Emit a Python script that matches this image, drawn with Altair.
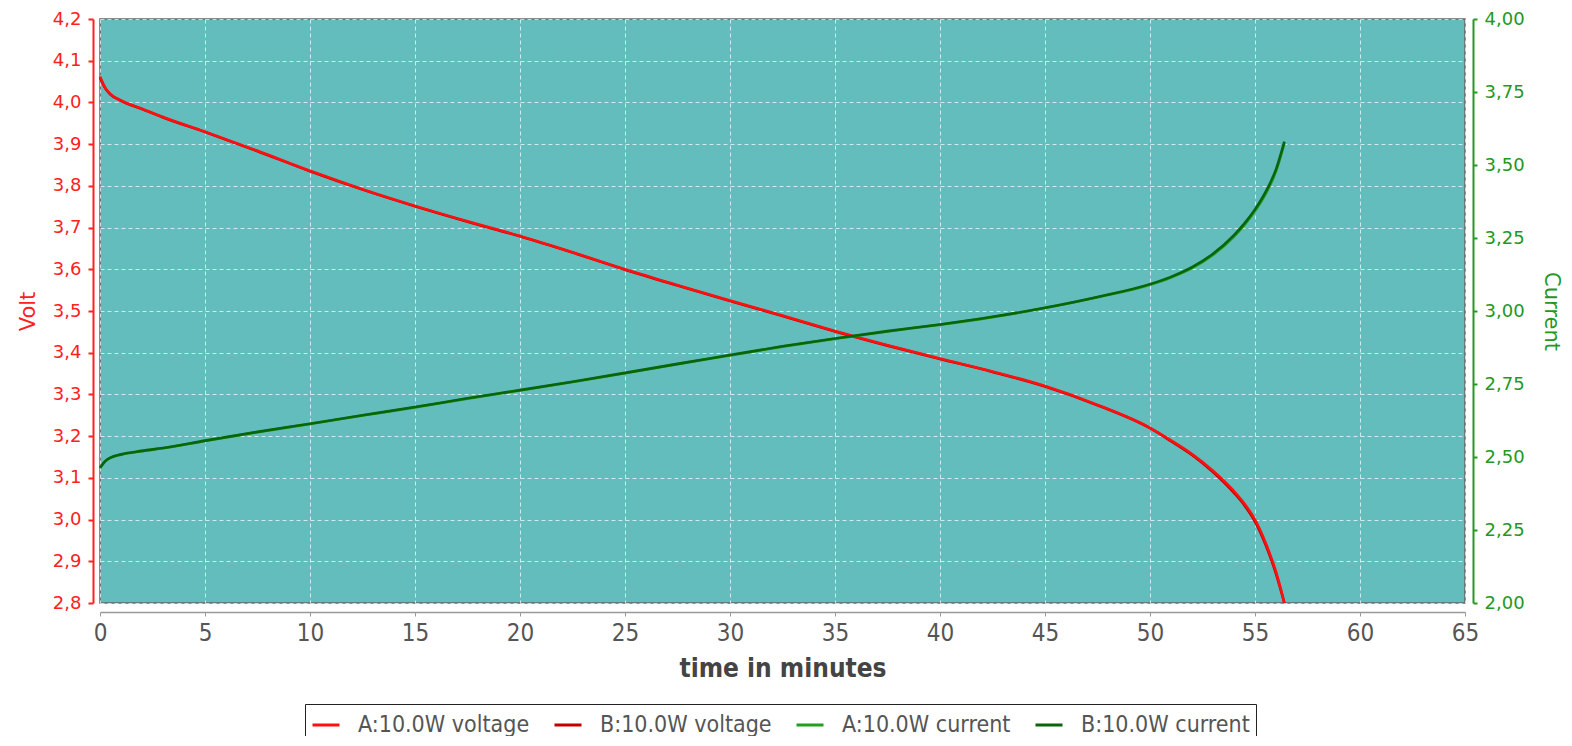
import altair as alt
import pandas as pd

# time in minutes
time = [0, 0.25, 0.5, 1, 2, 3, 5, 7.5, 10, 12.5, 15, 17.5, 20, 22.5, 25, 27.5,
        30, 32.5, 35, 37.5, 40, 42.5, 45, 47.5, 50, 51, 52, 53, 54, 54.5, 55, 55.5, 56, 56.4]

volt_a = [4.062, 4.035, 4.02, 4.005, 3.985, 3.965, 3.93, 3.884, 3.836, 3.792, 3.752, 3.715,
          3.68, 3.641, 3.60, 3.562, 3.525, 3.489, 3.452, 3.418, 3.386, 3.355, 3.32, 3.275,
          3.22, 3.19, 3.157, 3.117, 3.068, 3.038, 3.0, 2.945, 2.875, 2.8]
volt_b = [4.060, 4.034, 4.019, 4.004, 3.984, 3.964, 3.929, 3.883, 3.835, 3.791, 3.751, 3.714,
          3.679, 3.640, 3.599, 3.561, 3.524, 3.488, 3.451, 3.417, 3.385, 3.354, 3.319, 3.274,
          3.219, 3.188, 3.155, 3.114, 3.064, 3.034, 2.995, 2.94, 2.87, 2.8]

curr_a = [2.462, 2.485, 2.497, 2.508, 2.52, 2.53, 2.555, 2.585, 2.613, 2.642, 2.67, 2.70,
          2.728, 2.757, 2.787, 2.818, 2.848, 2.878, 2.905, 2.93, 2.953, 2.979, 3.01, 3.047,
          3.09, 3.115, 3.147, 3.192, 3.255, 3.295, 3.342, 3.40, 3.478, 3.575]
curr_b = [2.463, 2.486, 2.498, 2.509, 2.521, 2.531, 2.556, 2.586, 2.614, 2.643, 2.671, 2.701,
          2.729, 2.758, 2.788, 2.819, 2.849, 2.879, 2.906, 2.931, 2.954, 2.980, 3.011, 3.048,
          3.092, 3.117, 3.150, 3.196, 3.26, 3.30, 3.348, 3.407, 3.485, 3.58]

series_names = ["A:10.0W voltage", "B:10.0W voltage", "A:10.0W current", "B:10.0W current"]
series_colors = ["#ff1010", "#c00000", "#1fa01f", "#0a640a"]

df_va = pd.DataFrame({"t": time, "v": volt_a, "s": series_names[0]})
df_vb = pd.DataFrame({"t": time, "v": volt_b, "s": series_names[1]})
df_ca = pd.DataFrame({"t": time, "c": curr_a, "s": series_names[2]})
df_cb = pd.DataFrame({"t": time, "c": curr_b, "s": series_names[3]})

FONT = "DejaVu Sans"
COND = "DejaVu Sans Condensed"
RED = "#ff2020"
GREEN = "#229922"

legend = alt.Legend(
    title=None, orient="none", legendX=205, legendY=685, direction="horizontal",
    columns=4, symbolType="stroke", symbolStrokeWidth=3, symbolSize=729,
    labelFontSize=23, labelFont=COND, labelColor="#555", labelLimit=400,
    strokeColor="#222", padding=6, columnPadding=18, labelOffset=17,
)

color = alt.Color("s:N", scale=alt.Scale(domain=series_names, range=series_colors),
                  legend=legend, sort=series_names)

xenc = alt.X("t:Q", scale=alt.Scale(domain=[0, 65], nice=False),
             axis=alt.Axis(title="time in minutes", values=list(range(0, 70, 5)),
                           titleFontSize=26, titleFontWeight="bold", titleColor="#444",
                           titleFont=COND, titlePadding=10,
                           labelFontSize=24, labelColor="#555", labelFont=COND,
                           labelFlush=False,
                           domainColor="#999", domainWidth=1.5, tickColor="#999", tickSize=4,
                           offset=9, labelPadding=5,
                           grid=True, gridColor="white", gridDash=[4, 3], gridOpacity=0.7))

vaxis = alt.Axis(title="Volt", titleColor=RED, titleFontSize=21,
                 titleFontWeight="normal", titleFont=FONT, titlePadding=14,
                 values=[round(2.8 + 0.1 * i, 1) for i in range(15)],
                 labelExpr="replace(format(datum.value, '.1f'), '.', ',')",
                 labelColor=RED, labelFontSize=18, labelFont=FONT, labelPadding=7,
                 labelFlush=False,
                 domainColor=RED, tickColor=RED, domainWidth=2, tickWidth=2, tickSize=5,
                 offset=7,
                 grid=True, gridColor="white", gridDash=[4, 3], gridOpacity=0.7)
vscale = alt.Scale(domain=[2.8, 4.2], nice=False, zero=False)

caxis = alt.Axis(title="Current", orient="right", titleColor=GREEN, titleFontSize=21,
                 titleFontWeight="normal", titleFont=FONT, titleAngle=90,
                 titlePadding=16,
                 values=[2.0 + 0.25 * i for i in range(9)],
                 labelExpr="replace(format(datum.value, '.2f'), '.', ',')",
                 labelColor=GREEN, labelFontSize=18, labelFont=FONT, labelPadding=7,
                 labelFlush=False,
                 domainColor=GREEN, tickColor=GREEN, domainWidth=2, tickWidth=2, tickSize=4,
                 offset=8, grid=False)
cscale = alt.Scale(domain=[2.0, 4.0], nice=False, zero=False)


def vline(df):
    return alt.Chart(df).mark_line(strokeWidth=2.6, interpolate="monotone").encode(
        x=xenc,
        y=alt.Y("v:Q", scale=vscale, axis=vaxis),
        color=color,
    )


def cline(df):
    return alt.Chart(df).mark_line(strokeWidth=2.6, interpolate="monotone").encode(
        x=xenc,
        y=alt.Y("c:Q", scale=cscale, axis=caxis),
        color=color,
    )


volt = alt.layer(vline(df_vb), vline(df_va))
curr = alt.layer(cline(df_ca), cline(df_cb))

chart = alt.layer(volt, curr).resolve_scale(y="independent").properties(
    width=1365, height=584,
    background="white",
    autosize=alt.AutoSizeParams(type="none"),
    padding={"left": 92, "top": 11, "right": 99, "bottom": 133},
).configure_view(
    fill="#63bdbd", stroke="#666", strokeWidth=1.5,
)

chart.save("out.html", embed_options={"renderer": "svg", "actions": False})
